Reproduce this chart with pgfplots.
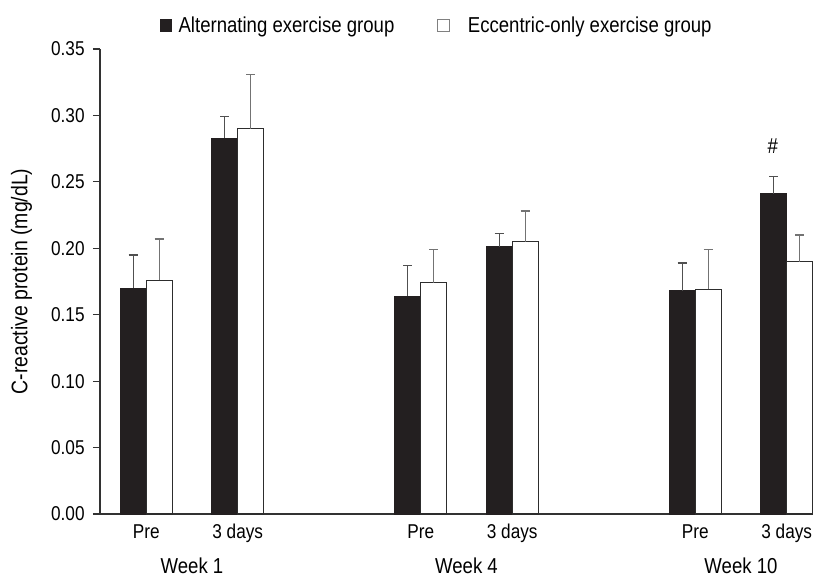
\documentclass[border=0pt]{standalone}
\usepackage{fontspec}
\setmainfont{Liberation Sans}[FakeStretch=0.86]
\usepackage{pgfplots}
\pgfplotsset{compat=1.18}

\definecolor{barblack}{RGB}{35,31,32}
\definecolor{edgegray}{RGB}{45,45,45}
\definecolor{errgray}{RGB}{80,80,80}
\definecolor{axgray}{RGB}{50,50,50}

\newcommand{\tickfont}{\fontsize{10pt}{12pt}\selectfont}
\newcommand{\bigfont}{\fontsize{10.8pt}{13pt}\selectfont}

\begin{document}
\begin{tikzpicture}
\useasboundingbox (-50pt,-30.5pt) rectangle (360.5pt,257pt);
\begin{axis}[
    scale only axis,
    width=356.35pt,
    height=232.5pt,
    ybar=0pt,
    bar width=13pt,
    xmin=-0.5055, xmax=7.284,
    ymin=0, ymax=0.35,
    enlargelimits=false,
    clip=false,
    axis x line*=bottom,
    axis y line*=left,
    axis line style={-, axgray, line width=0.7pt},
    xtick={0,1,3,4,6,7},
    xticklabels={Pre,3 days,Pre,3 days,Pre,3 days},
    xtick style={draw=none},
    ytick={0,0.05,0.1,0.15,0.2,0.25,0.3,0.35},
    ytick style={axgray, line width=0.6pt},
    tick align=outside,
    major tick length=3.5pt,
    /pgf/number format/assume math mode=true,
    yticklabel style={/pgf/number format/fixed, /pgf/number format/fixed zerofill,
        /pgf/number format/precision=2, font=\tickfont, anchor=east, inner sep=0pt, xshift=-4pt},
    xticklabel style={font=\tickfont, anchor=base, inner sep=0pt, yshift=-8.7pt},
    ylabel={C-reactive protein (mg/dL)},
    ylabel style={font=\fontsize{11.3pt}{13pt}\selectfont, at={(axis description cs:0,0.5)}, anchor=center, yshift=39.2pt},
    legend columns=2,
    legend style={at={(axis description cs:0.4736,1.05)}, anchor=center, draw=none, fill=none,
        font=\bigfont, inner sep=0pt,
        /tikz/every even column/.append style={column sep=19.5pt}},
    error bars/y dir=plus,
    error bars/y explicit,
]
\addplot[fill=barblack, draw=barblack, line width=0.5pt,
    error bars/error bar style={errgray, line width=0.6pt},
    error bars/error mark options={rotate=90, errgray, line width=0.6pt, mark size=2.25pt},
    legend image code/.code={
        \fill[barblack] (0pt,-2.9pt) rectangle (5.8pt,2.9pt);
        \path[draw=none, fill=none] (0pt,0pt) -- (7.3pt,0pt);}]
    coordinates {
    (0,0.170) +- (0,0.025)
    (1,0.283) +- (0,0.016)
    (3,0.164) +- (0,0.023)
    (4,0.201) +- (0,0.010)
    (6,0.168) +- (0,0.021)
    (7,0.241) +- (0,0.013)
    };
\addlegendentry{Alternating exercise group}
\addplot[fill=white, draw=edgegray, line width=0.6pt,
    error bars/error bar style={errgray!80, line width=0.6pt},
    error bars/error mark options={rotate=90, errgray!80, line width=0.6pt, mark size=2.25pt},
    legend image code/.code={
        \draw[draw=gray, fill=white, line width=0.5pt] (0pt,-3pt) rectangle (6pt,3pt);
        \path[draw=none, fill=none] (0pt,0pt) -- (13pt,0pt);}]
    coordinates {
    (0,0.176) +- (0,0.031)
    (1,0.290) +- (0,0.041)
    (3,0.174) +- (0,0.025)
    (4,0.205) +- (0,0.023)
    (6,0.169) +- (0,0.030)
    (7,0.190) +- (0,0.020)
    };
\addlegendentry{Eccentric-only exercise group}
\node[font=\bigfont, anchor=base] at (axis cs:0.5,0) [yshift=-29.65pt] {Week 1};
\node[font=\bigfont, anchor=base] at (axis cs:3.5,0) [yshift=-29.65pt] {Week 4};
\node[font=\bigfont, anchor=base] at (axis cs:6.5,0) [yshift=-29.65pt] {Week 10};
\node[font=\bigfont] at (axis cs:7,0.277) [xshift=-7pt] {\#};
\end{axis}
\end{tikzpicture}
\end{document}
